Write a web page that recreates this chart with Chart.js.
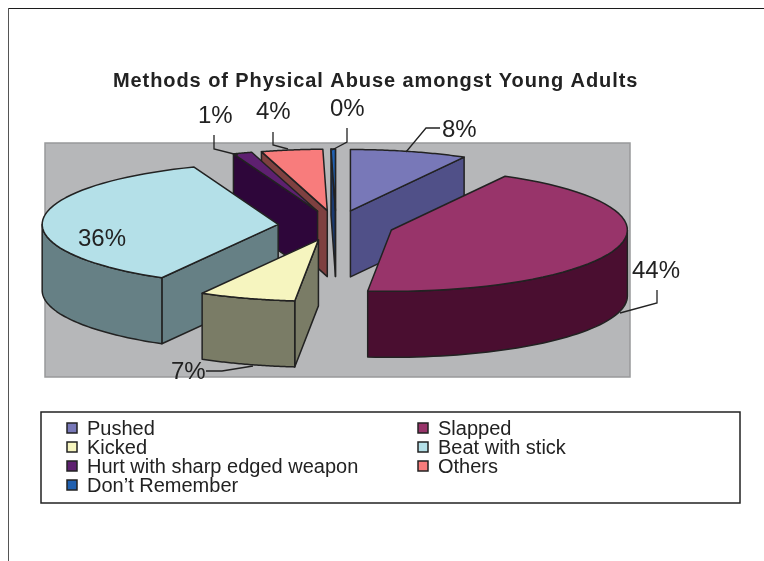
<!DOCTYPE html>
<html>
<head>
<meta charset="utf-8">
<title>Methods of Physical Abuse amongst Young Adults</title>
<script src="https://cdn.jsdelivr.net/npm/chart.js@4"></script>
<style>
    html, body { margin: 0; padding: 0; background: #fff; overflow: hidden; }
    canvas { display: block; }
</style>
</head>
<body>
<canvas id="abuseChart" width="764" height="561"></canvas>
<script>
// data
const categories = ['Pushed', 'Slapped', 'Kicked', 'Beat with stick', 'Hurt with sharp edged weapon', 'Others', 'Don\u2019t Remember'];
const percentValues = [8.0, 43.6, 6.6, 36.0, 1.3, 4.2, 0.3];
const chartTitle = 'Methods of Physical Abuse amongst Young Adults';

// colours: top face and the darker side wall of each slice
const topColors = ['#7878B8', '#98346A', '#F6F5BF', '#B4E0E8', '#5E2070', '#F87C7C', '#2060B0'];
const wallColors = ['#505088', '#4A0E30', '#7A7C66', '#668085', '#2E063A', '#7E4040', '#1A3A70'];

// layout of the fake 3D look
const RADIUS = 236;
const TILT = 0.26;     // ellipse height / width
const DEPTH = 66;      // height of the pie walls
const EXPLODE = 58;    // how far the slices are pulled out
const INK = '#222';

// data label text position and leader line for each slice
const labelSpots = [
    { x: 442, y: 137, line: [[440, 128], [426, 128], [406, 152]] },
    { x: 632, y: 278, line: [[657, 290], [657, 303], [620, 313]] },
    { x: 171, y: 379, line: [[206, 371], [222, 371], [253, 366]] },
    { x: 78, y: 246, line: null },
    { x: 198, y: 123, line: [[214, 135], [214, 149], [238, 155]] },
    { x: 256, y: 119, line: [[273, 132], [273, 145], [288, 149]] },
    { x: 330, y: 116, line: [[347, 128], [347, 142], [332, 150]] }
];

// legend rows: x of swatch, y of text middle
const legendSpots = [[67, 428], [418, 428], [67, 447], [418, 447], [67, 466], [418, 466], [67, 485]];

const total = percentValues.reduce((a, b) => a + b, 0);

function polygon(ctx, pts, fill) {
    ctx.beginPath();
    pts.forEach((p, i) => i ? ctx.lineTo(p[0], p[1]) : ctx.moveTo(p[0], p[1]));
    ctx.closePath();
    if (fill) {
        ctx.fillStyle = fill;
        ctx.fill();
    }
    ctx.stroke();
}

// draws the exploded pie from the arc elements chart.js laid out
function drawPie3d(chart) {
    const ctx = chart.ctx;
    const arcs = chart.getDatasetMeta(0).data.map((arc, index) => {
        const p = arc.getProps(['x', 'y', 'startAngle', 'endAngle', 'outerRadius']);
        const mid = (p.startAngle + p.endAngle) / 2;
        const ax = p.x + EXPLODE * Math.cos(mid);
        const ay = p.y + EXPLODE * TILT * Math.sin(mid);
        return { arc, index, p, mid, ax, ay };
    });

    // back slices first
    arcs.sort((a, b) => a.ay - b.ay);

    ctx.save();
    ctx.lineWidth = 1.5;
    ctx.lineJoin = 'round';
    ctx.strokeStyle = INK;

    arcs.forEach(s => {
        const rim = angle => [s.ax + s.p.outerRadius * Math.cos(angle), s.ay + s.p.outerRadius * TILT * Math.sin(angle)];
        const down = pt => [pt[0], pt[1] + DEPTH];
        const apex = [s.ax, s.ay];
        const wall = wallColors[s.index];

        // flat side walls, only the ones that look down
        const midPt = rim(s.mid);
        [s.p.startAngle, s.p.endAngle].forEach(angle => {
            const end = rim(angle);
            const dx = end[0] - apex[0];
            const dy = end[1] - apex[1];
            let ny = dx;
            if (-dy * (midPt[0] - apex[0]) + dx * (midPt[1] - apex[1]) < 0) {
                ny = -dx;
            }
            if (ny < 0) {
                polygon(ctx, [apex, end, down(end), down(apex)], wall);
            }
        });

        // outer round wall, only the part in front
        const from = Math.max(s.p.startAngle, 0);
        const to = Math.min(s.p.endAngle, Math.PI);
        if (to > from) {
            const top = [];
            for (let i = 0; i <= 48; i++) {
                top.push(rim(from + (to - from) * i / 48));
            }
            polygon(ctx, top.concat(top.map(down).reverse()), wall);
        }

        // top face, filled by the arc element itself in a squashed context
        ctx.save();
        ctx.translate(s.ax - s.p.x, s.ay);
        ctx.scale(1, TILT);
        ctx.translate(0, -s.p.y);
        s.arc.draw(ctx);
        ctx.restore();

        const face = [apex];
        for (let i = 0; i <= 48; i++) {
            face.push(rim(s.p.startAngle + (s.p.endAngle - s.p.startAngle) * i / 48));
        }
        polygon(ctx, face, null);
    });
    ctx.restore();
}

const pie3dPlugin = {
    id: 'pie3d',
    beforeDatasetsDraw(chart) {
        const ctx = chart.ctx;
        // page frame
        ctx.save();
        ctx.fillStyle = '#1c1c1c';
        ctx.fillRect(8, 8, 756, 1);
        ctx.fillStyle = '#555';
        ctx.fillRect(8, 8, 1, 553);

        // grey plot area
        ctx.fillStyle = '#B6B7B9';
        ctx.strokeStyle = '#98999b';
        ctx.lineWidth = 1.5;
        ctx.fillRect(45, 143, 585, 234);
        ctx.strokeRect(45, 143, 585, 234);
        ctx.restore();

        drawPie3d(chart);
        return false; // default flat pie is not wanted
    },
    afterDraw(chart) {
        const ctx = chart.ctx;
        ctx.save();

        // title
        ctx.fillStyle = '#222';
        ctx.font = 'bold 20px "Liberation Sans"';
        ctx.letterSpacing = '0.92px';
        ctx.textAlign = 'left';
        ctx.textBaseline = 'alphabetic';
        ctx.fillText(chartTitle, 113, 87);
        ctx.letterSpacing = '0px';

        // data labels and leader lines
        ctx.font = '24px "Liberation Sans"';
        ctx.strokeStyle = INK;
        ctx.lineWidth = 1.3;
        percentValues.forEach((v, i) => {
            const spot = labelSpots[i];
            ctx.fillText(Math.round(v / total * 100) + '%', spot.x, spot.y);
            if (spot.line) {
                ctx.beginPath();
                spot.line.forEach((p, j) => j ? ctx.lineTo(p[0], p[1]) : ctx.moveTo(p[0], p[1]));
                ctx.stroke();
            }
        });

        // legend box
        ctx.fillStyle = '#fff';
        ctx.lineWidth = 1.5;
        ctx.fillRect(41, 412, 699, 91);
        ctx.strokeRect(41, 412, 699, 91);
        ctx.font = '20px "Liberation Sans"';
        ctx.textBaseline = 'middle';
        categories.forEach((name, i) => {
            const [x, y] = legendSpots[i];
            ctx.fillStyle = topColors[i];
            ctx.fillRect(x, y - 5, 10, 10);
            ctx.strokeRect(x, y - 5, 10, 10);
            ctx.fillStyle = '#222';
            ctx.fillText(name, x + 20, y + 1);
        });
        ctx.restore();
    }
};

new Chart(document.getElementById('abuseChart').getContext('2d'), {
    type: 'pie',
    data: {
        labels: categories,
        datasets: [{
            data: percentValues,
            backgroundColor: topColors,
            borderWidth: 0
        }]
    },
    options: {
        responsive: false,
        animation: false,
        radius: RADIUS,
        layout: { padding: { right: 92, bottom: 110 } }, // puts the pie centre at 336, 225
        plugins: {
            legend: { display: false },
            tooltip: { enabled: false }
        }
    },
    plugins: [pie3dPlugin]
});
</script>
</body>
</html>
